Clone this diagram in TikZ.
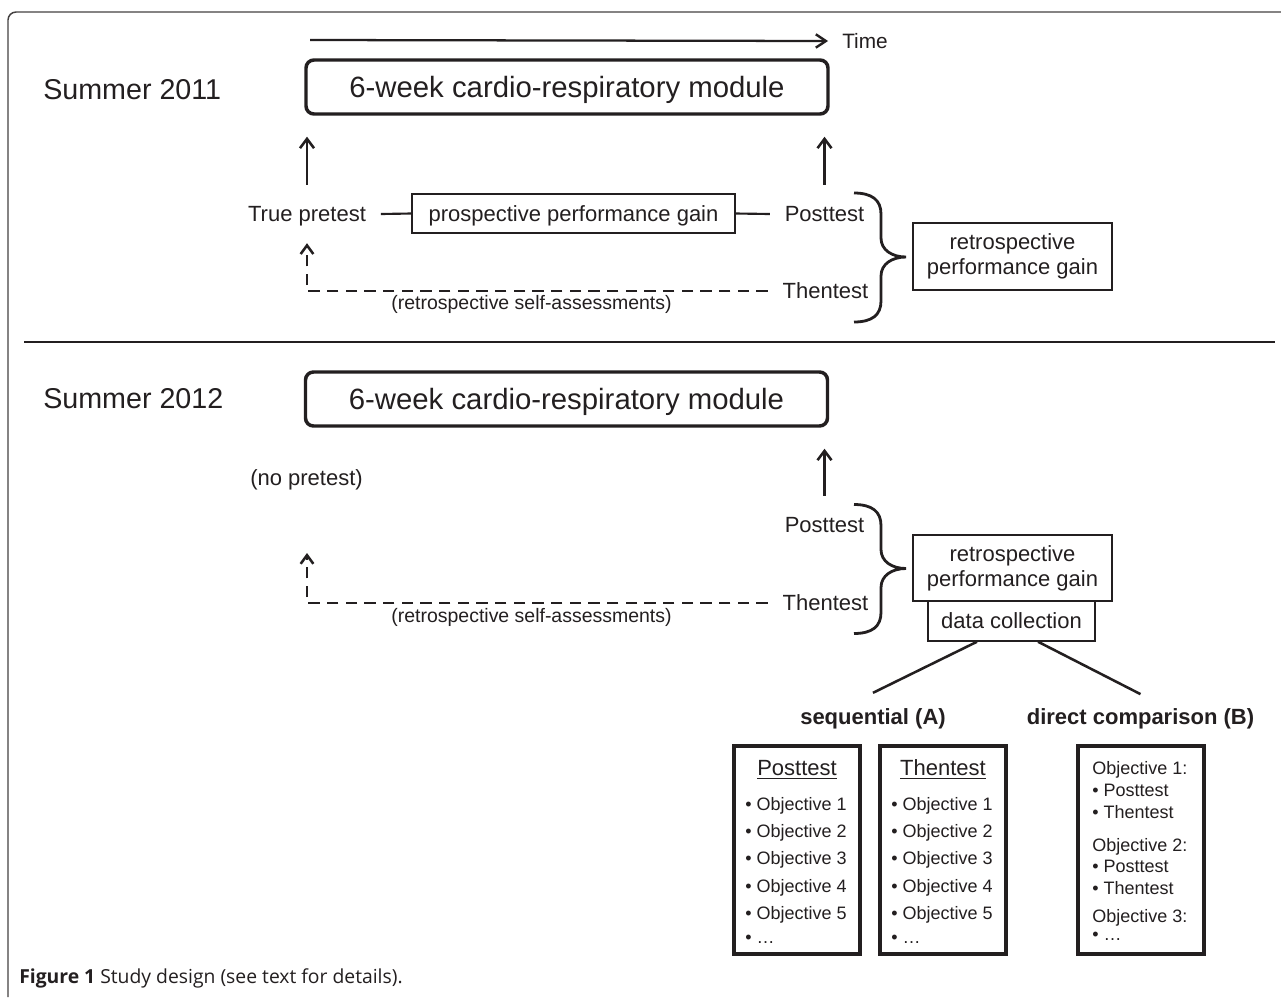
\documentclass[tikz,border=0pt]{standalone}
\usepackage{fontspec}
\setmainfont{Liberation Sans}
\newfontfamily\capfont{Open Sans}
\usetikzlibrary{arrows.meta,calc}
\definecolor{ink}{RGB}{35,31,32}
\begin{document}
\begin{tikzpicture}[x=0.75pt,y=-0.75pt,
  every node/.style={text=ink},
  sumtxt/.style={font=\fontsize{21.5pt}{24pt}\selectfont, inner sep=0pt, text height=15.4pt, text depth=0pt},
  modbox/.style={draw=ink, line width=2.6pt, rounded corners=6pt, minimum width=391.5pt, minimum height=40.5pt, inner sep=0pt,
     font=\fontsize{22pt}{26pt}\selectfont, text height=15.8pt, text depth=0pt},
  midtxt/.style={font=\fontsize{16.5pt}{19pt}\selectfont, inner sep=0pt, text height=11.9pt, text depth=0pt},
  stagetxt/.style={midtxt, inner xsep=11pt, inner ysep=15.75pt},
  smalltxt/.style={font=\fontsize{14.6pt}{17pt}\selectfont, inner sep=0pt, text height=10.5pt, text depth=0pt},
  thinbox/.style={draw=ink, line width=1.1pt, inner sep=0pt},
  gainbox/.style={thinbox, midtxt, minimum width=242.25pt, minimum height=29.25pt},
  retrobox/.style={thinbox, font=\fontsize{16.5pt}{18.75pt}\selectfont, align=center, minimum width=149.25pt, minimum height=50.25pt},
  dcbox/.style={thinbox, midtxt, minimum width=125.25pt, minimum height=30pt},
  objbox/.style={draw=ink, line width=2.6pt, minimum width=94.5pt, minimum height=156pt, inner sep=0pt},
  objtxt/.style={font=\fontsize{13.5pt}{16pt}\selectfont, inner sep=0pt, text height=9.7pt, text depth=0pt, anchor=west},
  hdtxt/.style={midtxt},
  boldtxt/.style={font=\fontsize{16.5pt}{19pt}\selectfont\bfseries, inner sep=0pt, text height=11.9pt, text depth=0pt},
  uparrow/.style={draw=ink, line width=1.8pt, -{Straight Barb[length=7pt,width=10.5pt,line width=1.9pt]}, shorten >=15.75pt},
  dasharrow/.style={draw=ink, line width=1.8pt, dash pattern=on 8.5pt off 5.5pt, -{Straight Barb[length=6.5pt,width=9.5pt,line width=1.9pt]}},
  timearrow/.style={draw=ink, line width=1.7pt, -{Straight Barb[length=7.5pt,width=10pt,line width=1.8pt]}},
  conn/.style={draw=ink, line width=1.6pt},
  conn2/.style={draw=ink, line width=1.9pt},
  bracepath/.style={draw=ink, line width=2.1pt},
  frame/.style={draw=ink!85, line width=1.1pt, rounded corners=6pt}
]
\useasboundingbox (0,0) rectangle (1281,997);
\fill[white] (0,0) rectangle (1281,997);

% frame and separator
\draw[frame] (8,997) -- (8,12) -- (1281,12);
\draw[ink, line width=1.8pt] (24,342) -- (1275,342);

% ---------------- Summer 2011 ----------------
\coordinate (t0) at (310,40);
\node[midtxt, font=\fontsize{15.6pt}{18pt}\selectfont, text height=11.2pt, inner xsep=10.5pt] (time) at (865,41) {Time};
\draw[timearrow] (t0) -- (time.west);

\node[sumtxt, anchor=west] (s11) at (43,89) {Summer 2011};
\node[modbox] (mod1) at (567,87) {6-week cardio-respiratory module};

\node[stagetxt] (tp) at (307,214) {True pretest};
\node[gainbox] (pg) at (573.5,213.5) {prospective performance gain};
\node[stagetxt] (post1) at (824.5,214) {Posttest};
\node[stagetxt] (then1) at (825.5,291) {Thentest};
\node[retrobox] (rg1) at (1012.5,256.5) {retrospective\\performance gain};
\node[smalltxt] (rsa1) at (531.5,302) {(retrospective self-assessments)};

\draw[uparrow] (tp.north) -- (tp.north |- mod1.south);
\draw[uparrow] (post1.north) -- (post1.north |- mod1.south);
\draw[conn] (tp.east) -- (pg.west);
\draw[conn] (pg.east) -- (post1.west);
\draw[dasharrow] (then1.west) -| (tp.south);

% braces
\foreach \o in {0,311.5}{
  \draw[bracepath, shift={(0,\o)}] (854,193) .. controls (872,193) and (881,200) .. (881,214)
     -- (881,238) .. controls (881,250) and (892,257) .. (906,257)
     .. controls (892,257) and (881,264) .. (881,276)
     -- (881,301) .. controls (881,315) and (872,322) .. (854,322);
}

% ---------------- Summer 2012 ----------------
\node[sumtxt, anchor=west] (s12) at (43,398) {Summer 2012};
\node[modbox] (mod2) at (566.5,399) {6-week cardio-respiratory module};
\node[midtxt] (np) at (306.5,478) {(no pretest)};
\coordinate (nptip) at (307,553);
\node[stagetxt] (post2) at (824.5,525) {Posttest};
\node[stagetxt] (then2) at (825.5,603) {Thentest};
\node[retrobox, minimum height=49.5pt] (rg2) at (1012.5,568) {retrospective\\performance gain};
\node[dcbox] (dc) at (1011.5,621) {data collection};
\node[smalltxt] (rsa2) at (531.5,615) {(retrospective self-assessments)};

\draw[uparrow] (post2.north) -- (post2.north |- mod2.south);
\draw[dasharrow] (then2.west) -| (nptip);

\node[boldtxt] (seq) at (873,717) {sequential (A)};
\node[boldtxt] (dir) at (1140.5,717) {direct comparison (B)};
\draw[conn2] ([xshift=-25.9pt]dc.south) -- ([yshift=12pt]seq.north);
\draw[conn2] ([xshift=19.9pt]dc.south) -- ([yshift=11pt]dir.north);

% objective boxes
\node[objbox] (boxP) at (797,850) {};
\node[objbox] (boxT) at (943,850) {};
\node[objbox] (boxB) at (1141,850) {};

\node[hdtxt] (hP) at (797,768) {\underline{Posttest}};
\node[hdtxt] (hT) at (943,768) {\underline{Thentest}};
\foreach \i/\yy in {1/804,2/831,3/858,4/886,5/913}{
  \node[objtxt] (pO\i) at (745,\yy) {• Objective \i};
  \node[objtxt] (tO\i) at (891,\yy) {• Objective \i};
}
\node[objtxt] (pO6) at (745,937) {• …};
\node[objtxt] (tO6) at (891,937) {• …};

\node[objtxt] (b1) at (1092,768) {Objective 1:};
\node[objtxt] (b2) at (1092,790) {• Posttest};
\node[objtxt] (b3) at (1092,812) {• Thentest};
\node[objtxt] (b4) at (1092,845) {Objective 2:};
\node[objtxt] (b5) at (1092,866) {• Posttest};
\node[objtxt] (b6) at (1092,888) {• Thentest};
\node[objtxt] (b7) at (1092,916) {Objective 3:};
\node[objtxt] (b8) at (1092,934) {• …};

% caption
\node[anchor=west, inner sep=0pt, font=\capfont\fontsize{14.5pt}{17pt}\selectfont] (cap) at (19,978) {\textbf{Figure 1} Study design (see text for details).};
\end{tikzpicture}
\end{document}
